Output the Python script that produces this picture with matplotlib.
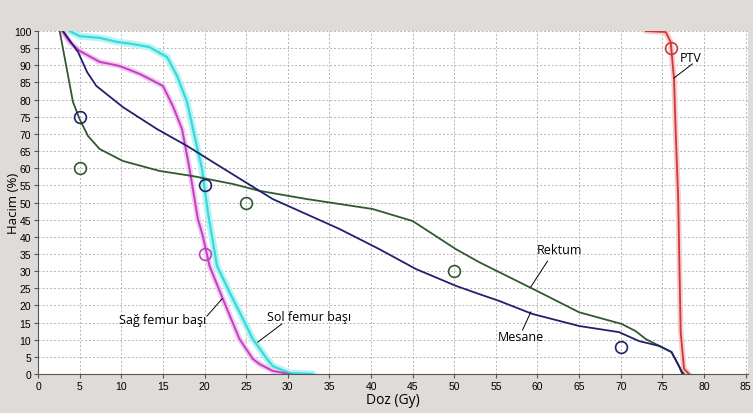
import matplotlib
matplotlib.use("Agg")
import matplotlib.pyplot as plt
import numpy as np

# Dose (Gy) / Volume (%)
rektum_x = [2.6, 4.2, 5.0, 6.0, 7.4, 10.2, 14.6, 18.6, 23.4, 26.6, 32.3, 40.2, 45.0, 50.2, 53.0, 55.4, 60.2, 65.0, 70.1, 71.8, 73.0, 76.1, 77.3, 77.6]
rektum_y = [100, 79.3, 74.3, 69.4, 65.6, 62.1, 59.2, 57.7, 55.4, 53.4, 51.0, 48.1, 44.6, 36.4, 32.6, 29.7, 23.9, 18.0, 14.6, 12.5, 10.2, 6.4, 0.9, 0]

mesane_x = [3.0, 4.8, 5.9, 7.0, 10.2, 14.3, 17.9, 21.8, 26.6, 28.2, 36.2, 41.0, 45.4, 50.2, 53.0, 55.4, 59.4, 65.0, 69.8, 72.2, 74.6, 76.1, 77.0, 77.4]
mesane_y = [100, 93.9, 88.0, 84.0, 77.8, 71.4, 66.5, 60.6, 53.4, 51.0, 42.3, 36.4, 30.6, 25.7, 23.3, 21.3, 17.5, 14.0, 12.2, 9.6, 8.2, 6.4, 2.3, 0]

sag_x = [2.9, 3.8, 5.0, 7.4, 9.8, 12.2, 15.0, 16.2, 17.3, 18.2, 19.2, 19.8, 20.6, 22.2, 24.2, 25.8, 26.6, 28.2, 30.2]
sag_y = [100, 96.8, 94.2, 91.0, 89.8, 87.5, 84.0, 78.1, 71.4, 59.8, 45.2, 40.2, 31.5, 21.9, 10.2, 4.4, 2.9, 0.9, 0]

sol_x = [3.8, 5.0, 7.4, 9.5, 11.4, 13.4, 15.5, 16.7, 17.9, 18.8, 19.7, 20.4, 21.5, 23.4, 24.2, 25.8, 27.5, 28.2, 30.2, 33.0]
sol_y = [100, 98.5, 98.0, 96.8, 96.2, 95.3, 92.4, 86.9, 79.3, 69.4, 59.8, 47.2, 31.5, 21.9, 18.1, 10.2, 4.4, 2.3, 0.3, 0]

ptv_x = [73.0, 75.4, 76.0, 76.4, 76.6, 76.9, 77.2, 77.6, 78.2]
ptv_y = [100, 99.7, 96.8, 86.0, 70.5, 51.0, 12.2, 1.5, 0]

# Constraint points
mesane_pts_x = [5, 20, 70]
mesane_pts_y = [75, 55, 8]
rektum_pts_x = [5, 25, 50]
rektum_pts_y = [60, 50, 30]
sag_pts_x = [20]
sag_pts_y = [35]
ptv_pts_x = [76]
ptv_pts_y = [95]

x_ticks = list(range(0, 90, 5))
y_ticks = list(range(0, 105, 5))

bg = "#dedbd8"
fig = plt.figure(figsize=(7.53, 4.14), dpi=100, facecolor=bg)
ax = fig.add_axes([0.0505, 0.0942, 0.943, 0.8285])
ax.set_facecolor("white")

c_green = "#2f5a2f"
c_navy = "#20206e"
c_mag = "#c040c0"
c_cyan = "#3cd8d8"
c_red = "#d03838"

# halos
ax.plot(sol_x, sol_y, color="#b8f4f4", lw=5, solid_capstyle="round", zorder=2)
ax.plot(sag_x, sag_y, color="#f4c8f0", lw=4, solid_capstyle="round", zorder=2)
ax.plot(ptv_x, ptv_y, color="#f8cccc", lw=4, solid_capstyle="round", zorder=2)

ax.plot(sol_x, sol_y, color=c_cyan, lw=1.6, zorder=3)
ax.plot(sag_x, sag_y, color=c_mag, lw=1.4, zorder=3)
ax.plot(rektum_x, rektum_y, color=c_green, lw=1.3, zorder=4)
ax.plot(mesane_x, mesane_y, color=c_navy, lw=1.3, zorder=4)
ax.plot(ptv_x, ptv_y, color=c_red, lw=1.3, zorder=4)

ms = 8.5
ax.plot(mesane_pts_x, mesane_pts_y, 'o', mfc='none', mec=c_navy, ms=ms, mew=1.2, zorder=5)
ax.plot(rektum_pts_x, rektum_pts_y, 'o', mfc='none', mec=c_green, ms=ms, mew=1.2, zorder=5)
ax.plot(sag_pts_x, sag_pts_y, 'o', mfc='none', mec=c_mag, ms=ms, mew=1.2, zorder=5)
ax.plot(ptv_pts_x, ptv_pts_y, 'o', mfc='none', mec=c_red, ms=ms, mew=1.2, zorder=5)

ax.set_xlim(0, 85.3)
ax.set_ylim(0, 100)
ax.set_xticks(x_ticks)
ax.set_yticks(y_ticks)
ax.tick_params(labelsize=7.5, length=3, color="#555555", pad=2)
for lab in ax.get_xticklabels() + ax.get_yticklabels():
    lab.set_fontfamily("Liberation Sans")
ax.grid(True, color="#b4b4b4", linestyle=(0, (2, 2)), lw=0.7, zorder=0)
for s in ["top", "right"]:
    ax.spines[s].set_visible(False)
for s in ["left", "bottom"]:
    ax.spines[s].set_color("#555555")
    ax.spines[s].set_linewidth(0.8)

ax.set_xlabel("Doz (Gy)", fontsize=10, family="Open Sans", labelpad=1)
ax.set_ylabel("Hacim (%)", fontsize=9.5, family="Open Sans")
ax.yaxis.set_label_coords(-0.026, 0.5)

lab_kw = dict(fontsize=9, family="Open Sans", color="black", ha="center", va="center", zorder=6)
ax.text(78.4, 92.4, "PTV", **lab_kw)
ax.plot([76.4, 78.6], [86.3, 90.4], color="black", lw=0.7, zorder=6)
ax.text(62.6, 36.4, "Rektum", **lab_kw)
ax.plot([59.2, 61.2], [25.4, 32.9], color="black", lw=0.7, zorder=6)
ax.text(58.0, 10.8, "Mesane", **lab_kw)
ax.plot([58.2, 59.2], [12.8, 18.1], color="black", lw=0.7, zorder=6)
ax.text(15.0, 16.0, "Sağ femur başı", **lab_kw)
ax.plot([20.3, 22.1], [16.9, 21.9], color="black", lw=0.7, zorder=6)
ax.text(32.6, 16.9, "Sol femur başı", **lab_kw)
ax.plot([26.4, 29.3], [9.3, 14.6], color="black", lw=0.7, zorder=6)

fig.savefig("out.png", dpi=100, facecolor=bg)
